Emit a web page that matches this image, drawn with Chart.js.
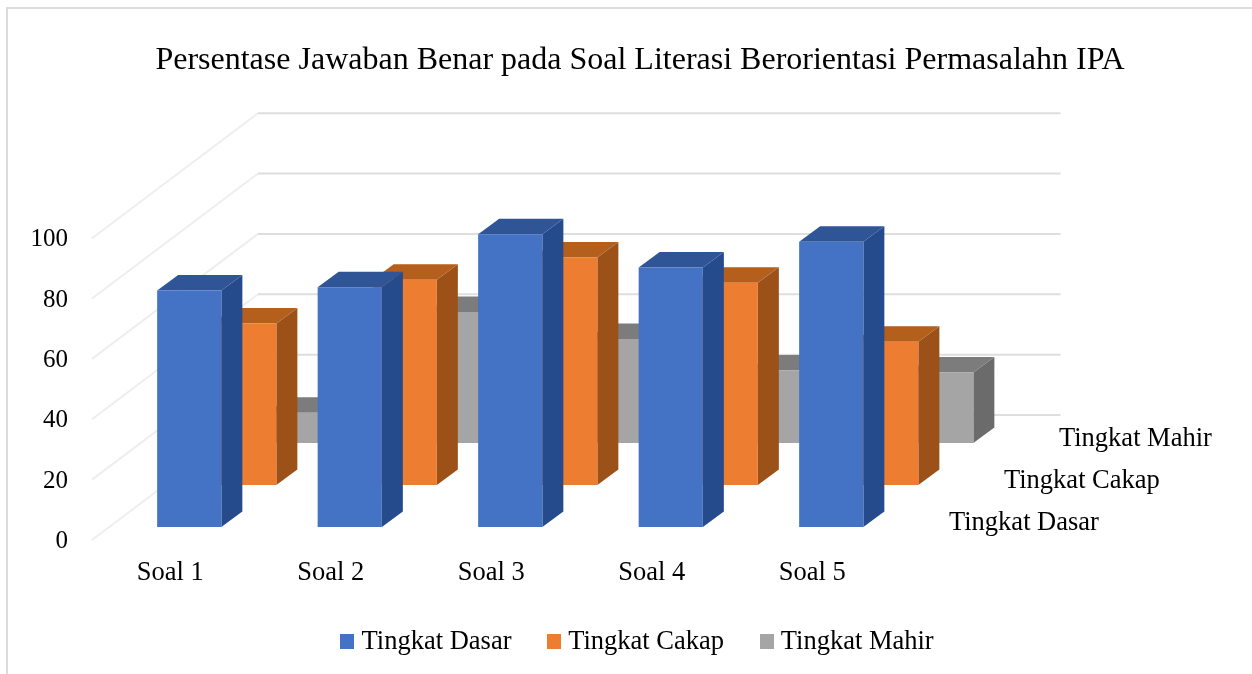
<!DOCTYPE html>
<html>
<head>
<meta charset="utf-8">
<script src="https://cdn.jsdelivr.net/npm/chart.js@4/dist/chart.umd.min.js"></script>
<style>
  html, body { margin: 0; padding: 0; width: 1252px; height: 674px; overflow: hidden; background: #fff; }
  #box { position: absolute; left: 6px; top: 7px; width: 1268px; height: 702px; border: 2px solid #dcdcdc; box-sizing: border-box; }
  #chart { position: absolute; left: -1px; top: -1px; }
</style>
</head>
<body>
<div id="box"><canvas id="chart" width="1266" height="700"></canvas></div>
<script>
const TITLE = 'Persentase Jawaban Benar pada Soal Literasi Berorientasi Permasalahn IPA';
const SOAL = ['Soal 1', 'Soal 2', 'Soal 3', 'Soal 4', 'Soal 5'];
const DASAR = [78.4, 79.4, 97, 86, 94.5];
const CAKAP = [53.5, 68, 75.4, 67, 47.5];
const MAHIR = [10, 43.4, 34.5, 24, 23.4];
const Y_TICKS = [0, 20, 40, 60, 80, 100];

const FONT = 'Liberation Serif';
const FACE = ['#4472C4', '#ED7D31', '#A5A5A5'];
const TOP = ['#2F5597', '#B55F1C', '#7C7C7C'];
const SIDE = ['#264B8C', '#9C5119', '#6B6B6B'];

// 3d look: offset of each series from the front plane, bar depth, wall depth
const SERIES_DX = [17, 72, 127], SERIES_DY = [13, 55, 97];
const BAR_DX = 21, BAR_DY = 15.5;
const WALL_DX = 166, WALL_DY = 125;

function poly(ctx, color, pts) {
  ctx.fillStyle = color;
  ctx.beginPath();
  pts.forEach((p, i) => (i ? ctx.lineTo(p[0], p[1]) : ctx.moveTo(p[0], p[1])));
  ctx.closePath();
  ctx.fill();
}

// small canvas markers so the legend swatch sits close to its text
function swatch(color) {
  const c = document.createElement('canvas');
  c.width = 14; c.height = 15;
  const g = c.getContext('2d');
  g.fillStyle = color;
  g.fillRect(0, 0, 14, 15);
  return c;
}

const walls3d = {
  id: 'walls3d',
  beforeDatasetsDraw(chart) {
    const { ctx, chartArea: a, scales: { y } } = chart;
    ctx.save();
    ctx.lineWidth = 2;
    Y_TICKS.forEach((t) => {
      const py = y.getPixelForValue(t);
      ctx.strokeStyle = '#eeeeee';
      ctx.beginPath();
      ctx.moveTo(a.left, py);
      ctx.lineTo(a.left + WALL_DX, py - WALL_DY);
      ctx.stroke();
      ctx.strokeStyle = '#dedede';
      ctx.beginPath();
      ctx.moveTo(a.left + WALL_DX, py - WALL_DY);
      ctx.lineTo(a.right + WALL_DX, py - WALL_DY);
      ctx.stroke();
    });

    // back series first so the front ones cover them
    for (let i = chart.data.datasets.length - 1; i >= 0; i--) {
      chart.getDatasetMeta(i).data.forEach((bar) => {
        const l = bar.x - bar.width / 2 + SERIES_DX[i];
        const r = l + bar.width;
        const t = bar.y - SERIES_DY[i];
        const b = bar.base - SERIES_DY[i];
        poly(ctx, SIDE[i], [[r, t], [r + BAR_DX, t - BAR_DY], [r + BAR_DX, b - BAR_DY], [r, b]]);
        poly(ctx, TOP[i], [[l, t], [l + BAR_DX, t - BAR_DY], [r + BAR_DX, t - BAR_DY], [r, t]]);
        poly(ctx, FACE[i], [[l, t], [r, t], [r, b], [l, b]]);
      });
    }

    // series names along the depth axis
    ctx.fillStyle = '#000';
    ctx.font = '26.5px "' + FONT + '"';
    ctx.textAlign = 'left';
    ctx.textBaseline = 'middle';
    chart.data.datasets.forEach((ds, i) => {
      ctx.fillText(ds.label, a.right + 37.5 + SERIES_DX[i], a.bottom - SERIES_DY[i] - 3.5);
    });
    ctx.restore();
    return false;
  },
};

new Chart(document.getElementById('chart'), {
  type: 'bar',
  plugins: [walls3d],
  data: {
    labels: SOAL,
    datasets: [
      { label: 'Tingkat Dasar', data: DASAR, backgroundColor: FACE[0], pointStyle: swatch(FACE[0]) },
      { label: 'Tingkat Cakap', data: CAKAP, backgroundColor: FACE[1], pointStyle: swatch(FACE[1]) },
      { label: 'Tingkat Mahir', data: MAHIR, backgroundColor: FACE[2], pointStyle: swatch(FACE[2]) },
    ],
  },
  options: {
    responsive: false,
    animation: false,
    layout: { padding: { bottom: 43 } },
    datasets: { bar: { grouped: false, categoryPercentage: 1, barPercentage: 0.4 } },
    plugins: {
      tooltip: { enabled: false },
      title: {
        display: true, text: TITLE, color: '#000',
        font: { family: FONT, size: 32, weight: 'normal' },
        padding: { top: 33, bottom: 158.8 },
      },
      legend: {
        position: 'bottom',
        labels: {
          color: '#000', font: { family: FONT, size: 26.5 },
          usePointStyle: true, boxWidth: 2, boxHeight: 14, padding: 41.5,
        },
      },
    },
    scales: {
      x: {
        grid: { display: false }, border: { display: false },
        ticks: { color: '#000', font: { family: FONT, size: 26.5 }, padding: 9, labelOffset: -2 },
        afterFit(s) { s.height = 47; },
      },
      y: {
        min: 0, max: 100,
        grid: { display: false, drawTicks: false }, border: { display: false },
        ticks: { stepSize: 20, color: '#000', font: { family: FONT, size: 25 }, padding: 24, labelOffset: 1.5 },
        afterFit(s) { s.width = 85; },
      },
      // empty axis: keeps room on the right for the walls and the depth labels
      spacer: {
        type: 'linear', position: 'right',
        grid: { display: false }, border: { display: false }, ticks: { display: false },
        afterFit(s) { s.width = 378.5; },
      },
    },
  },
});
</script>
</body>
</html>
